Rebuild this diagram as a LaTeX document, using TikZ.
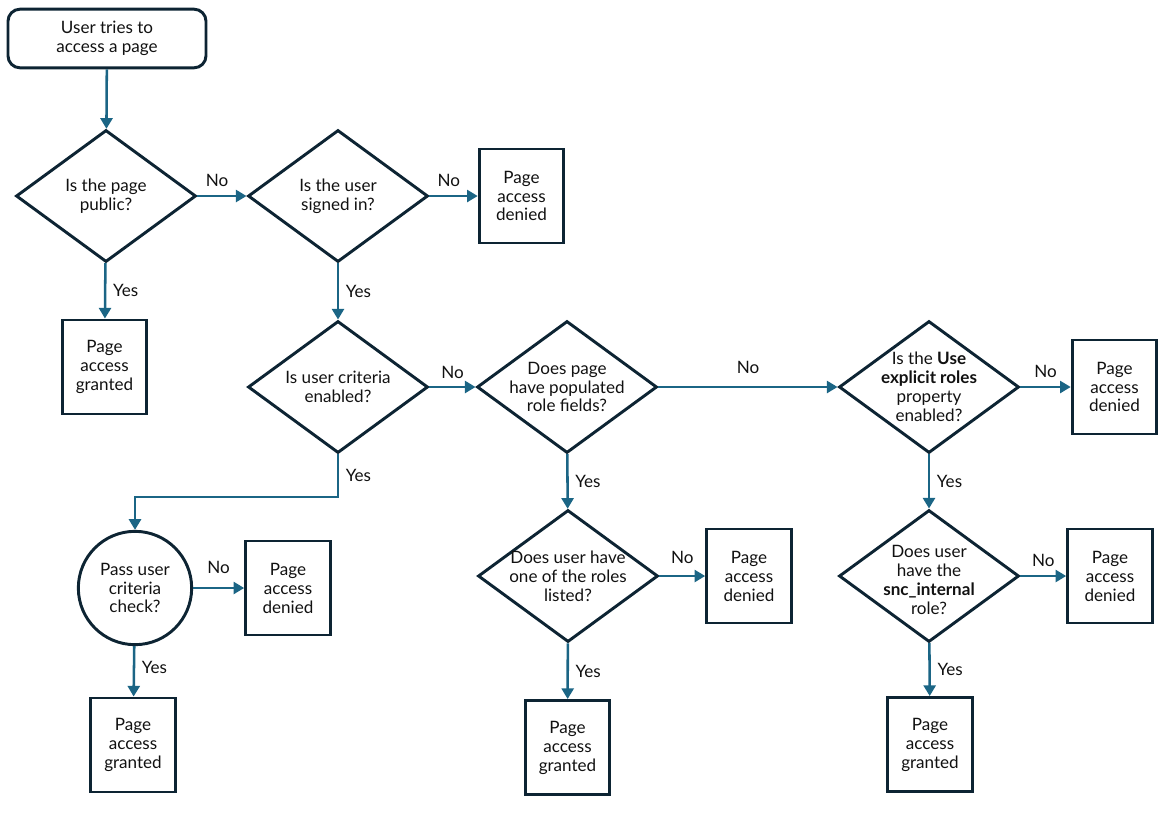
\documentclass[tikz,border=0pt]{standalone}
\usepackage{fontspec}
\setmainfont{Lato}
\usetikzlibrary{shapes.geometric,arrows.meta,positioning}
\definecolor{bordc}{HTML}{0D2433}
\definecolor{arrc}{HTML}{1B6585}
\definecolor{txtc}{HTML}{111111}
\begin{document}
\begin{tikzpicture}[x=0.75pt,y=-0.75pt,
  every node/.style={font=\fontsize{12.8}{14.2}\selectfont, text=txtc},
  startbox/.style={draw=bordc, line width=2.2pt, rounded corners=9pt, minimum width=148.5pt, minimum height=44pt, align=center, inner sep=0pt},
  decision/.style={draw=bordc, line width=2.2pt, diamond, aspect=1.36, inner sep=0pt, minimum width=135pt, minimum height=99pt},
  dtext/.style={align=center, inner sep=0pt},
  endbox/.style={draw=bordc, line width=2.2pt, minimum width=63.5pt, minimum height=70.5pt, align=center, inner sep=0pt},
  checkc/.style={draw=bordc, line width=2.2pt, circle, minimum size=85pt, align=center, inner sep=0pt},
  flow/.style={draw=arrc, line width=1.9pt, -{Triangle[length=8pt,width=9pt]}},
  nolab/.style={font=\fontsize{12.8}{14.2}\selectfont, inner sep=2pt, above, yshift=4pt},
  yeslab/.style={font=\fontsize{12.8}{14.2}\selectfont, inner sep=2pt, right, xshift=3pt}
]
\useasboundingbox (0,0) rectangle (1176,818);

\node[startbox] (start) at (107,38.5) {User tries to\\access a page};
\node[decision] (d1) at (106,196) {};
\node[dtext] (d1t) at (d1) {Is the page\\public?};
\node[decision] (d2) at (338,196) {};
\node[dtext] (d2t) at (d2) {Is the user\\signed in?};
\node[endbox] (den2) at (521.5,196) {Page\\access\\denied};
\node[endbox] (gr1) at (104.5,367) {Page\\access\\granted};
\node[decision] (d3) at (338,387) {};
\node[dtext] (d3t) at (d3) {Is user criteria\\enabled?};
\node[decision] (d4) at (567,387) {};
\node[dtext] (d4t) at (d4) {Does page\\have populated\\role fields?};
\node[decision] (d5) at (929,387) {};
\node[dtext] (d5t) at (d5) {Is the \textbf{Use}\\\textbf{explicit roles}\\property\\enabled?};
\node[endbox] (den5) at (1114.5,387) {Page\\access\\denied};
\node[checkc] (circ) at (135,588) {Pass user\\criteria\\check?};
\node[endbox] (denc) at (288,588) {Page\\access\\denied};
\node[endbox] (grc) at (133,745) {Page\\access\\granted};
\node[decision] (d7) at (568,576) {};
\node[dtext] (d7t) at (d7) {Does user have\\one of the roles\\listed?};
\node[endbox] (den7) at (749,576) {Page\\access\\denied};
\node[endbox] (gr7) at (567.5,747.5) {Page\\access\\granted};
\node[decision] (d6) at (929,576) {};
\node[dtext] (d6t) at ([yshift=-3pt]d6.center) {Does user\\have the\\\textbf{snc\_internal}\\role?};
\node[endbox] (den6) at (1110,576) {Page\\access\\denied};
\node[endbox] (gr6) at (930,744.5) {Page\\access\\granted};

\coordinate (bend) at (338,497);

\draw[flow] (start) -- (d1);
\draw[flow] (d1) -- node[nolab, pos=0.4] {No} (d2);
\draw[flow] (d1) -- node[yeslab] {Yes} (gr1);
\draw[flow] (d2) -- node[nolab, pos=0.4] {No} (den2);
\draw[flow] (d2) -- node[yeslab] {Yes} (d3);
\draw[flow] (d3) -- node[nolab, yshift=-1pt] {No} (d4);
\draw[flow] (d4) -- node[nolab, yshift=3pt] {No} (d5);
\draw[flow] (d5) -- node[nolab] {No} (den5);
\draw[flow] (d3.south) -- node[yeslab, pos=0.5] {Yes} (bend) -| (circ.north);
\draw[flow] (circ) -- node[nolab, yshift=4pt] {No} (denc);
\draw[flow] (circ) -- node[yeslab, yshift=3pt] {Yes} (grc);
\draw[flow] (d4) -- node[yeslab] {Yes} (d7);
\draw[flow] (d7) -- node[nolab, yshift=2pt] {No} (den7);
\draw[flow] (d7) -- node[yeslab] {Yes} (gr7);
\draw[flow] (d5) -- node[yeslab] {Yes} (d6);
\draw[flow] (d6) -- node[nolab] {No} (den6);
\draw[flow] (d6) -- node[yeslab] {Yes} (gr6);
\end{tikzpicture}
\end{document}
